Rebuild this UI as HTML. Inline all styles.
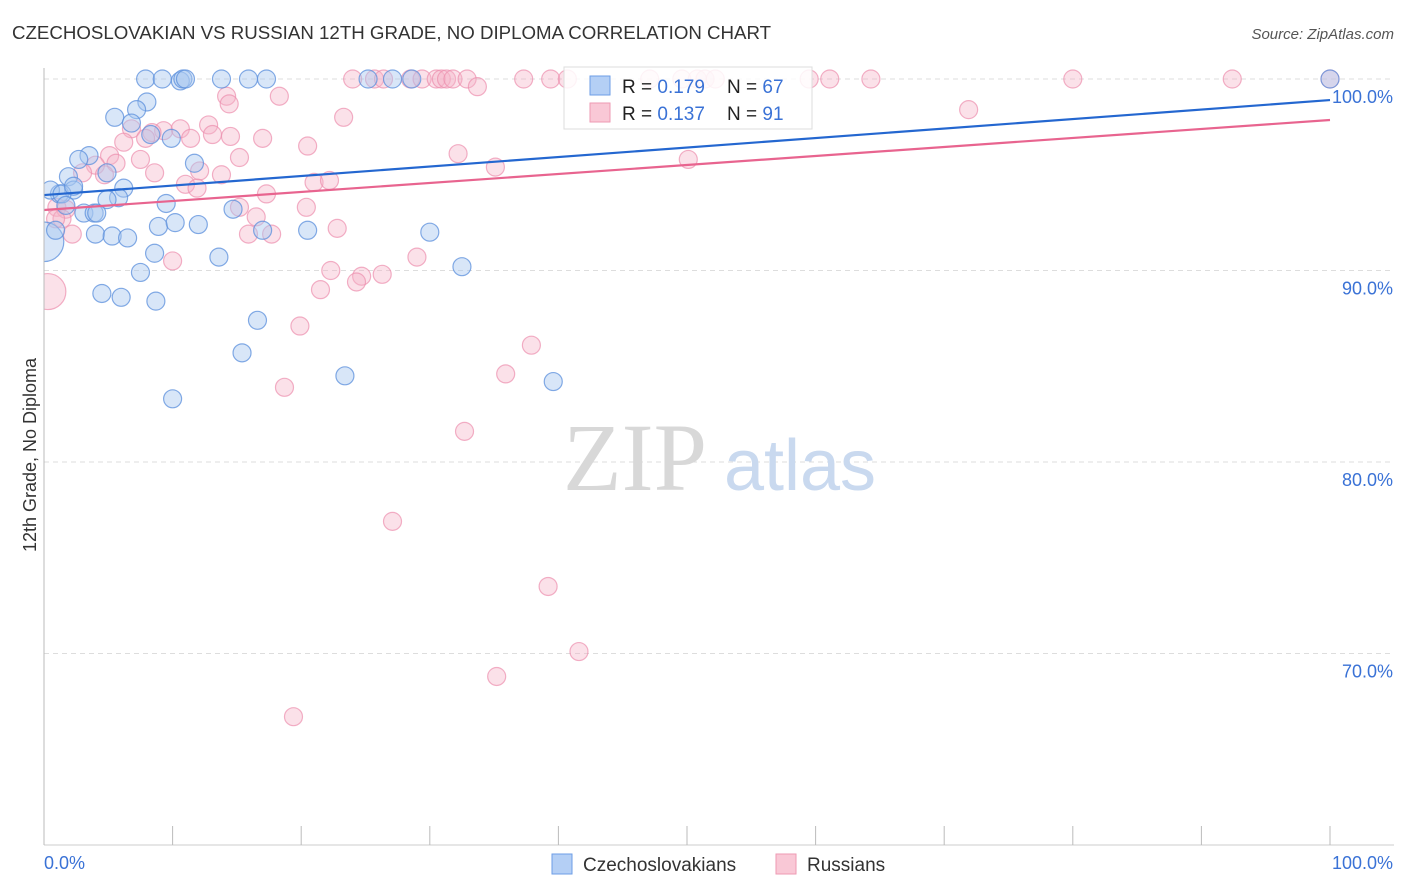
<!DOCTYPE html>
<html><head><meta charset="utf-8"><style>
body{margin:0;background:#fff;font-family:"Liberation Sans",sans-serif;}
svg{display:block}
</style></head><body>
<svg id="chart" width="1406" height="892" xmlns="http://www.w3.org/2000/svg">
<defs><clipPath id="plotclip"><rect x="44" y="60" width="1362" height="785"/></clipPath></defs>
<text x="12" y="39" font-size="18.7" fill="#333">CZECHOSLOVAKIAN VS RUSSIAN 12TH GRADE, NO DIPLOMA CORRELATION CHART</text>
<text x="1394" y="39" font-size="15" fill="#555" font-style="italic" text-anchor="end">Source: ZipAtlas.com</text>
<text x="36" y="455" font-size="18" fill="#333" text-anchor="middle" transform="rotate(-90 36 455)">12th Grade, No Diploma</text>
<g id="grid"></g>
<g>
<text x="635" y="490" font-size="96" fill="#d8d8d8" text-anchor="middle" font-family="Liberation Serif, serif">ZIP</text>
<text x="800" y="490" font-size="72" fill="#c9d9ef" text-anchor="middle">atlas</text>
</g>
<g id="points" clip-path="url(#plotclip)"></g>
<g id="trends"></g>
<g id="axes"></g>
<g>
<rect x="564" y="67" width="248" height="62" fill="#fff" fill-opacity="0.85" stroke="#ddd"/>
<rect x="590" y="76" width="20" height="19" fill="#b4cff5" stroke="#6d9ee6"/>
<text x="622" y="93" font-size="19" fill="#222">R = <tspan fill="#3a72d6">0.179</tspan></text>
<text x="727" y="93" font-size="19" fill="#222">N = <tspan fill="#3a72d6">67</tspan></text>
<rect x="590" y="103" width="20" height="19" fill="#f9c8d6" stroke="#ee9ab3"/>
<text x="622" y="120" font-size="19" fill="#222">R = <tspan fill="#3a72d6">0.137</tspan></text>
<text x="727" y="120" font-size="19" fill="#222">N = <tspan fill="#3a72d6"> 91</tspan></text>
</g>
<g>
<rect x="552" y="854" width="20" height="20" fill="#b4cff5" stroke="#6d9ee6"/>
<text x="583" y="871" font-size="19" fill="#333">Czechoslovakians</text>
<rect x="776" y="854" width="20" height="20" fill="#f9c8d6" stroke="#ee9ab3"/>
<text x="807" y="871" font-size="19" fill="#333">Russians</text>
</g>
</svg>
<script>
const yTicks=[100,90,80,70];
const xTickLabels=["0.0%","100.0%"];
const blueX=[7.9,9.2,10.6,10.8,11.0,13.8,15.9,17.3,25.2,27.1,28.6,100,8.0,7.2,5.5,6.8,9.9,8.3,3.5,2.7,4.9,1.9,11.7,6.2,2.3,1.2,0.5,1.4,5.8,4.9,9.5,14.7,3.1,3.9,4.1,8.9,10.2,12.0,4.0,5.3,6.5,17.0,20.5,30.0,8.6,13.6,7.5,32.5,4.5,6.0,8.7,16.6,15.4,23.4,39.6,10.0,0,0.9,1.7,2.3];
const blueY=[100,100,99.9,100,100,100,100,100,100,100,100,100,98.8,98.4,98.0,97.7,96.9,97.1,96.0,95.8,95.1,94.9,95.6,94.3,94.2,94.0,94.2,94.0,93.8,93.7,93.5,93.2,93.0,93.0,93.0,92.3,92.5,92.4,91.9,91.8,91.7,92.1,92.1,92.0,90.9,90.7,89.9,90.2,88.8,88.6,88.4,87.4,85.7,84.5,84.2,83.3,91.5,92.1,93.4,94.4];
const blueSize=[1,1,1,1,1,1,1,1,1,1,1,1,1,1,1,1,1,1,1,1,1,1,1,1,1,1,1,1,1,1,1,1,1,1,1,1,1,1,1,1,1,1,1,1,1,1,1,1,1,1,1,1,1,1,1,1,2.2,1,1,1];
const pinkX=[24.0,25.7,26.4,28.5,29.4,30.5,30.9,31.3,31.8,32.9,37.3,39.4,40.7,47.1,49.6,50.8,51.4,52.2,59.5,61.1,64.3,80.0,92.4,100,33.7,14.2,18.3,14.4,71.9,23.3,12.8,6.8,9.3,10.6,8.4,7.9,13.1,11.4,14.5,17.0,6.2,20.5,5.1,7.5,15.2,32.2,50.1,5.6,4.0,3.0,12.1,4.7,8.6,13.8,35.1,11.0,21.0,22.2,11.9,17.3,15.2,20.4,1.0,1.7,1.4,16.5,2.2,15.9,17.7,22.8,10.0,22.3,24.7,26.3,29.0,21.5,24.3,0.3,19.9,37.9,35.9,18.7,32.7,27.1,39.2,41.6,35.2,19.4,0.9];
const pinkY=[100,100,100,100,100,100,100,100,100,100,100,100,100,100,100,100,100,100,100,100,100,100,100,100,99.6,99.1,99.1,98.7,98.4,98.0,97.6,97.4,97.3,97.4,97.2,96.9,97.1,96.9,97.0,96.9,96.7,96.5,96.0,95.8,95.9,96.1,95.8,95.6,95.5,95.1,95.2,95.0,95.1,95.0,95.4,94.5,94.6,94.7,94.3,94.0,93.3,93.3,93.3,93.2,92.7,92.8,91.9,91.9,91.9,92.2,90.5,90.0,89.7,89.8,90.7,89.0,89.4,88.9,87.1,86.1,84.6,83.9,81.6,76.9,73.5,70.1,68.8,66.7,92.7];
const pinkSize=pinkX.map((v,i)=>i===77?2:1);
const blueTrend=[93.94,98.9];
const pinkTrend=[93.16,97.86];

const NS="http://www.w3.org/2000/svg";
const X0=44,X1=1330,YT=79,PX10=19.15;
const sx=v=>X0+(X1-X0)*v/100;
const sy=v=>YT+(100-v)*PX10;
function mk(tag,attrs,parent){const e=document.createElementNS(NS,tag);for(const k in attrs)e.setAttribute(k,attrs[k]);parent.appendChild(e);return e;}
const grid=document.getElementById('grid'),axes=document.getElementById('axes');
yTicks.forEach(t=>{
  const l=mk('line',{x1:X0,x2:1394,y1:sy(t),y2:sy(t),stroke:'#ddd','stroke-dasharray':'5,4'},grid);
  
  
  const tx=mk('text',{x:1393,y:sy(t)+24,'font-size':18,fill:'#3a72d6','text-anchor':'end'},axes);
  tx.textContent=t.toFixed(1)+'%';
  
  
});
const ax=mk('line',{x1:X0,x2:1394,y1:845,y2:845,stroke:'#ccc'},axes);


const ay=mk('line',{x1:X0,x2:X0,y1:68,y2:845,stroke:'#bbb'},axes);


for(let i=0;i<=10;i++){
  const t=mk('line',{x1:sx(i*10),x2:sx(i*10),y1:826,y2:845,stroke:'#bbb'},axes);
  
  
}
const xl0=mk('text',{x:44,y:869,'font-size':18,fill:'#3a72d6'},axes);xl0.textContent=xTickLabels[0];


const xl1=mk('text',{x:1393,y:869,'font-size':18,fill:'#3a72d6','text-anchor':'end'},axes);xl1.textContent=xTickLabels[1];


const pts=document.getElementById('points');
pinkX.forEach((v,i)=>{
  const c=mk('circle',{cx:sx(v),cy:sy(pinkY[i]),r:9*pinkSize[i],fill:'#f5b3c8','fill-opacity':0.4,stroke:'#ec8fae','stroke-opacity':0.7,'stroke-width':1.2},pts);
  
  
});
blueX.forEach((v,i)=>{
  const c=mk('circle',{cx:sx(v),cy:sy(blueY[i]),r:9*blueSize[i],fill:'#a9c7f0','fill-opacity':0.45,stroke:'#5b8fdc','stroke-opacity':0.75,'stroke-width':1.2},pts);
  
  
});
const tr=document.getElementById('trends');
const pl=mk('line',{x1:sx(0),x2:sx(100),y1:sy(pinkTrend[0]),y2:sy(pinkTrend[1]),stroke:'#e8648f','stroke-width':2.2},tr);


const bl=mk('line',{x1:sx(0),x2:sx(100),y1:sy(blueTrend[0]),y2:sy(blueTrend[1]),stroke:'#2467d0','stroke-width':2.2},tr);


</script>
</body></html>
